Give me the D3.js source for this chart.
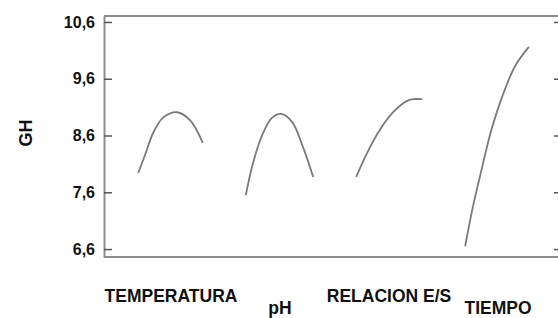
<!DOCTYPE html>
<html>
<head>
<meta charset="utf-8">
<script src="https://cdn.jsdelivr.net/npm/d3@7"></script>
<style>
  body { margin: 0; background: #fff; }
  text { font-family: "Liberation Sans", Arial, sans-serif; font-weight: bold; fill: #111; }
</style>
</head>
<body>
<div id="canvas"></div>
<script>
const canvWidth = 558, canvHeight = 318;

// factors and their staggered label rows
const factors = ["TEMPERATURA", "pH", "RELACION E/S", "TIEMPO"];

// coded level (-1..1) and GH
const tempLevel = [-0.98, -0.77, -0.53, -0.23, 0.2, 0.59, 0.98];
const tempGH = [7.94, 8.26, 8.64, 8.91, 9.01, 8.87, 8.47];
const phLevel = [-1.02, -0.8, -0.5, -0.23, 0.05, 0.38, 0.71, 1.02];
const phGH = [7.55, 8.12, 8.64, 8.91, 8.98, 8.84, 8.40, 7.87];
const relLevel = [-0.98, -0.65, -0.26, 0.14, 0.56, 0.74, 1.02];
const relGH = [7.87, 8.29, 8.70, 9.01, 9.21, 9.24, 9.24];
const timeLevel = [-0.98, -0.74, -0.47, -0.29, -0.17, 0.14, 0.53, 0.95];
const timeGH = [6.65, 7.36, 8.03, 8.47, 8.73, 9.28, 9.82, 10.16];

const yTicks = [6.6, 7.6, 8.6, 9.6, 10.6];

const series = [
    {factor: factors[0], level: tempLevel, gh: tempGH},
    {factor: factors[1], level: phLevel, gh: phGH},
    {factor: factors[2], level: relLevel, gh: relGH},
    {factor: factors[3], level: timeLevel, gh: timeGH}
];

const margin = {top: 16, right: -4, bottom: 61, left: 104};
const width = canvWidth - margin.left - margin.right;
const height = canvHeight - margin.top - margin.bottom;

const svg = d3.select("#canvas").append("svg")
    .attr("width", canvWidth)
    .attr("height", canvHeight);

const g = svg.append("g")
    .attr("transform", "translate(" + margin.left + "," + margin.top + ")");

var y = d3.scaleLinear()
    .domain([6.46, 10.705])
    .range([height, 0]);

var x = d3.scalePoint()
    .domain(factors)
    .range([66.5, 393.5]);

var inner = d3.scaleLinear()
    .domain([-1, 1])
    .range([-33, 33]);

var fmt = function (d) {
    return d3.format(".1f")(d).replace(".", ",");
};

// frame: top line
g.append("line")
    .attr("x1", 0).attr("x2", width)
    .attr("y1", 0).attr("y2", 0)
    .style("stroke", "#8c8c8c")
    .style("stroke-width", 2);

var yAxis = g.append("g")
    .call(d3.axisLeft(y).tickValues(yTicks).tickSize(-8).tickSizeOuter(0)
        .tickPadding(9).tickFormat(fmt));
yAxis.select(".domain").style("stroke", "#8c8c8c").style("stroke-width", 2);
yAxis.selectAll(".tick line").style("stroke", "#555").style("stroke-width", 1.5);
yAxis.selectAll(".tick text")
    .style("font-size", "16px")
    .style("fill", "#111")
    .style("font-family", "'Liberation Sans', Arial, sans-serif");

var yRight = g.append("g")
    .attr("transform", "translate(" + width + ",0)")
    .call(d3.axisRight(y).tickValues(yTicks).tickSize(-8).tickSizeOuter(0).tickFormat(""));
yRight.select(".domain").style("stroke", "#8c8c8c").style("stroke-width", 2);
yRight.selectAll(".tick line").style("stroke", "#555").style("stroke-width", 1.5);

var xAxis = g.append("g")
    .attr("transform", "translate(0," + height + ")")
    .call(d3.axisBottom(x).tickSize(0).tickSizeOuter(0));
xAxis.select(".domain")
    .attr("d", "M0,0H" + width)
    .style("stroke", "#8c8c8c").style("stroke-width", 2);
xAxis.selectAll(".tick text")
    .attr("dy", null)
    .attr("y", function (d, i) { return i % 2 ? 57 : 45; })
    .style("font-size", "17.5px")
    .style("fill", "#111")
    .style("font-family", "'Liberation Sans', Arial, sans-serif");

// y title
svg.append("text")
    .attr("transform", "translate(32,133) rotate(-90)")
    .attr("text-anchor", "middle")
    .style("font-size", "18px")
    .text("GH");

var line = d3.line()
    .curve(d3.curveCatmullRom.alpha(0.5));

g.selectAll(".curve")
    .data(series)
    .enter().append("path")
    .attr("class", "curve")
    .attr("d", function (s) {
        return line(s.level.map(function (l, i) {
            return [x(s.factor) + inner(l), y(s.gh[i])];
        }));
    })
    .style("fill", "none")
    .style("stroke", "#7a7a7a")
    .style("stroke-width", 1.8);
</script>
</body>
</html>
